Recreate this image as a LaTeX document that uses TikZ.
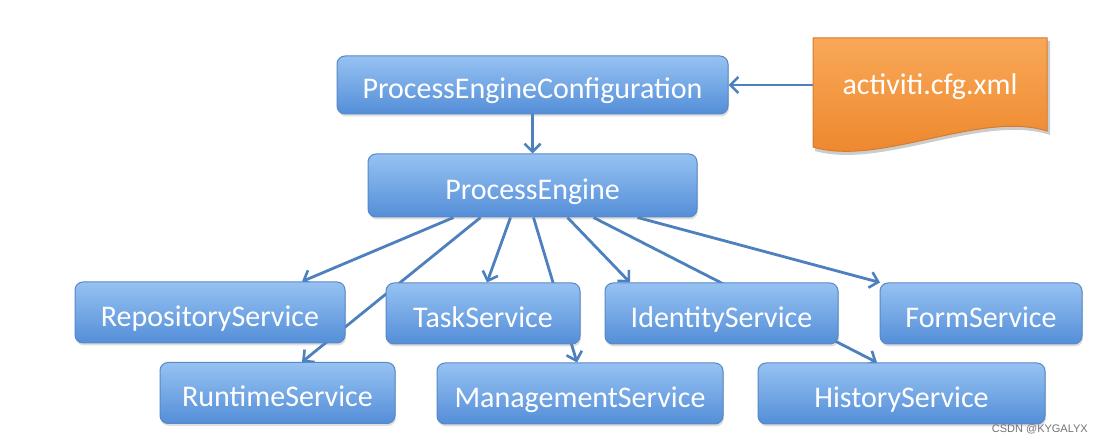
\documentclass[tikz,border=0pt]{standalone}
\usepackage{fontspec}
\setmainfont{Carlito}
\newfontfamily\wmfont{Liberation Sans}
\usetikzlibrary{arrows.meta,shadows,calc}
\pgfdeclarelayer{back}
\pgfdeclarelayer{bg}
\pgfsetlayers{back,bg,main}
\definecolor{boxtop}{RGB}{150,194,242}
\definecolor{boxbot}{RGB}{84,142,216}
\definecolor{boxborder}{RGB}{88,136,198}
\definecolor{arrowblue}{RGB}{76,128,190}
\definecolor{ortop}{RGB}{249,168,88}
\definecolor{orbot}{RGB}{236,132,40}
\definecolor{orborder}{RGB}{214,124,46}
\begin{document}
\begin{tikzpicture}[x=1pt,y=-1pt,
  lbl/.style={text=white, font=\fontsize{30pt}{32pt}\selectfont,
    text height=28pt, text depth=0pt},
  box/.style={lbl, rounded corners=8pt, draw=boxborder, line width=1pt,
    top color=boxtop, bottom color=boxbot, inner sep=0pt, minimum height=61pt,
    drop shadow={opacity=0.25, shadow xshift=1pt, shadow yshift=-2.5pt}},
  arr/.style={draw=arrowblue, line width=2.8pt,
    -{Straight Barb[length=8pt,width=16pt,line width=2.6pt]}}]
\begin{pgfonlayer}{back}
\fill[white] (0,0) rectangle (1104,443);
\end{pgfonlayer}
\useasboundingbox (0,0) rectangle (1104,443);
% document shape
\fill[black, opacity=0.2] (815,41) -- (1050,41) -- (1050,135)
  .. controls (983,113) and (882,170) .. (815,151) -- cycle;
\draw[draw=orborder, line width=1pt, top color=ortop, bottom color=orbot]
  (813,38) -- (1047,38) -- (1047,131)
  .. controls (980,110) and (880,167) .. (813,147) -- cycle;
\node[lbl, inner sep=0pt, minimum width=234pt] (cfg) at (930,81) {activiti.cfg.xml};
% boxes
\node[box, minimum width=391pt, minimum height=58pt] (pec) at (532.5,85) {ProcessEngineConfiguration};
\node[box, minimum width=329pt, minimum height=63pt] (pe) at (532.5,185.5) {ProcessEngine};
\node[box, minimum width=270pt] (repo) at (210,312.5) {RepositoryService};
\node[box, minimum width=194pt] (task) at (483,313.5) {TaskService};
\node[box, minimum width=233pt] (ident) at (721.5,313.5) {IdentityService};
\node[box, minimum width=202pt] (form) at (981,313.5) {FormService};
\node[box, minimum width=235pt] (run) at (277.5,393) {RuntimeService};
\node[box, minimum width=286pt] (mgmt) at (580,393.5) {ManagementService};
\node[box, minimum width=287pt] (hist) at (901.5,393.5) {HistoryService};
\node[font=\wmfont\fontsize{11pt}{12pt}\selectfont, text=black!55, anchor=east, inner sep=0pt] (wm) at (1088,429) {CSDN @KYGALYX};
% connectors
\begin{pgfonlayer}{bg}
\draw[arr] (cfg.west |- pec.east) -- (pec.east);
\draw[arr] (pec.south) -- (pe.north);
\draw[arr] ([xshift=-79pt]pe.south) -- ([xshift=92pt]repo.north);
\draw[arr] ([xshift=-52pt]pe.south) -- ([xshift=24.5pt]run.north);
\draw[arr] ([xshift=-22pt]pe.south) -- ([xshift=4pt]task.north);
\draw[arr] ([xshift=1pt]pe.south) -- ([xshift=-3pt]mgmt.north);
\draw[arr] ([xshift=35pt]pe.south) -- ([xshift=-91.5pt]ident.north);
\draw[arr] ([xshift=61pt]pe.south) -- ([xshift=-24.5pt]hist.north);
\draw[arr] ([xshift=105pt]pe.south) -- ([xshift=-101pt]form.north);
\end{pgfonlayer}
\end{tikzpicture}
\end{document}
